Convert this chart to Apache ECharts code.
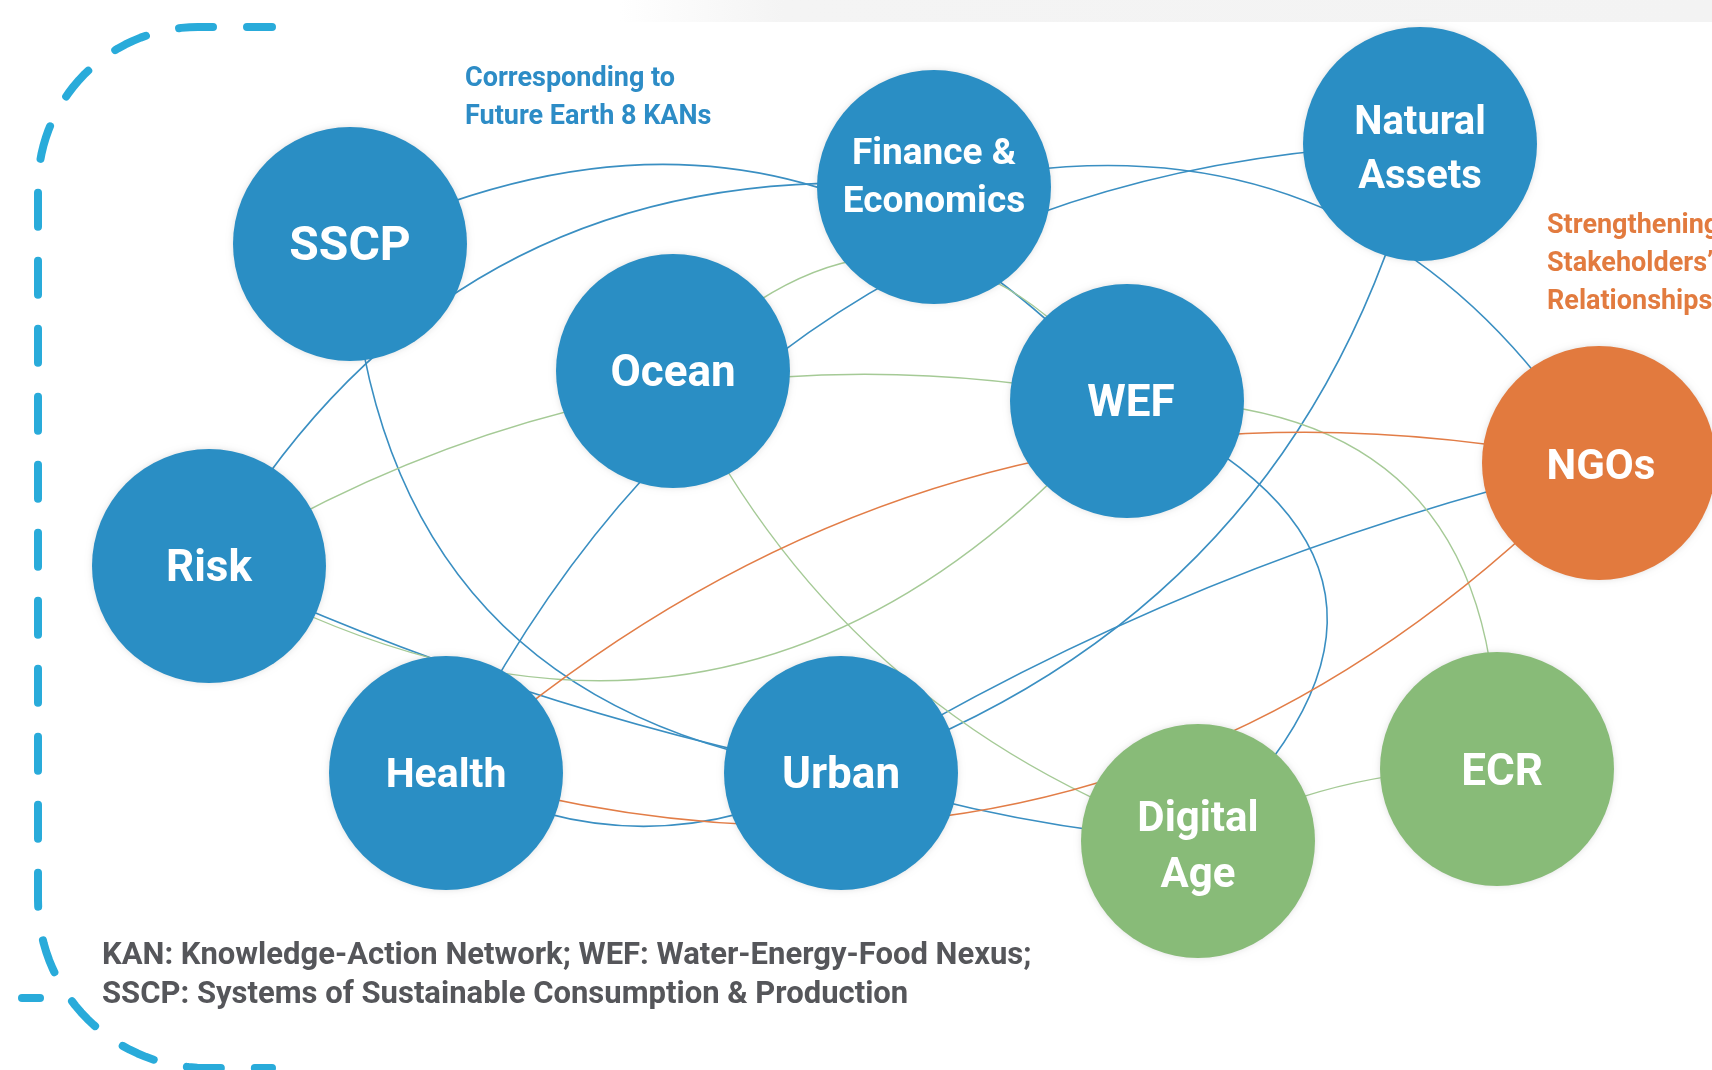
<!DOCTYPE html>
<html>
<head>
<meta charset="utf-8">
<script src="https://cdn.jsdelivr.net/npm/echarts@6/dist/echarts.min.js"></script>
<style>
html,body{margin:0;padding:0;background:#ffffff;}
#chart{width:1712px;height:1070px;}
</style>
</head>
<body>
<div id="chart"></div>
<script>
// ---------------- data ----------------
const nodeNames  = ['SSCP', 'Finance & Economics', 'Natural Assets', 'Ocean', 'WEF', 'NGOs', 'Risk', 'Health', 'Urban', 'Digital Age', 'ECR'];
const nodeLabels = ['SSCP', 'Finance &\nEconomics', 'Natural\nAssets', 'Ocean', 'WEF', 'NGOs', 'Risk', 'Health', 'Urban', 'Digital\nAge', 'ECR'];
const nodeGroups = ['KAN', 'KAN', 'KAN', 'KAN', 'KAN', 'Stakeholders', 'KAN', 'KAN', 'KAN', 'Emerging', 'Emerging'];
const groupNames = ['KAN', 'Stakeholders', 'Emerging'];

const linkSource = ['Risk', 'Finance & Economics', 'Urban', 'Risk', 'SSCP', 'Urban', 'WEF', 'SSCP', 'Health', 'Health', 'Urban',
                    'Ocean', 'WEF', 'ECR', 'Digital Age', 'Risk', 'Risk',
                    'Health', 'Health'];
const linkTarget = ['Finance & Economics', 'NGOs', 'NGOs', 'Urban', 'Urban', 'Digital Age', 'Digital Age', 'WEF', 'Natural Assets', 'Urban', 'Natural Assets',
                    'WEF', 'ECR', 'Digital Age', 'Ocean', 'WEF', 'WEF',
                    'NGOs', 'NGOs'];
const linkGroup  = ['KAN', 'KAN', 'KAN', 'KAN', 'KAN', 'KAN', 'KAN', 'KAN', 'KAN', 'KAN', 'KAN',
                    'Emerging', 'Emerging', 'Emerging', 'Emerging', 'Emerging', 'Emerging',
                    'Stakeholders', 'Stakeholders'];

const kanNote     = ['Corresponding to', 'Future Earth 8 KANs'];
const stakeNote   = ['Strengthening', 'Stakeholders\u2019', 'Relationships'];
const footerLines = ['KAN: Knowledge-Action Network; WEF: Water-Energy-Food Nexus;',
                     'SSCP: Systems of Sustainable Consumption & Production'];

// ---------------- layout & style (not data) ----------------
const NODE_POS = {
  'SSCP': [350, 244], 'Finance & Economics': [934, 187], 'Natural Assets': [1420, 144],
  'Ocean': [673, 371], 'WEF': [1127, 401], 'NGOs': [1599, 463], 'Risk': [209, 566],
  'Health': [446, 773], 'Urban': [841, 773], 'Digital Age': [1198, 841], 'ECR': [1497, 769]
};
const LINK_CURVE = [0.32, 0.36, 0.08, -0.06, -0.41, -0.06, 0.74, 0.38, 0.30, -0.27, -0.27,
                    0.57, 0.52, -0.13, 0.21, 0.197, -0.41,
                    0.25, -0.30];
const NODE_COLOR = { 'KAN': '#2a8ec4', 'Stakeholders': '#e27a3e', 'Emerging': '#88bb78' };
const LINK_COLOR = { 'KAN': '#3a8fc2', 'Stakeholders': '#e27d47', 'Emerging': '#a5ca96' };
const LINK_WIDTH = { 'KAN': 1.6, 'Stakeholders': 1.6, 'Emerging': 1.4 };
const LABEL_STYLE = {
  'SSCP': { fontSize: 48, offset: [0, 4] },
  'Finance & Economics': { fontSize: 37, lineHeight: 48, offset: [0, -8] },
  'Natural Assets': { fontSize: 40, lineHeight: 54, offset: [0, 7] },
  'Ocean': { offset: [0, 4] },
  'WEF': { offset: [4, 4] },
  'NGOs': { fontSize: 42, offset: [2, 5] },
  'Risk': { offset: [0, 4] },
  'Health': { fontSize: 41, offset: [0, 4] },
  'Urban': { offset: [0, 4] },
  'Digital Age': { fontSize: 42, lineHeight: 56, offset: [0, 7] },
  'ECR': { offset: [5, 5] }
};
const FONT = 'Roboto, "Noto Sans", sans-serif';

const nodes = nodeNames.map((n, i) => ({
  name: n,
  value: NODE_POS[n],
  category: groupNames.indexOf(nodeGroups[i]),
  label: Object.assign({ formatter: nodeLabels[i] }, LABEL_STYLE[n] || {})
}));
const links = linkSource.map((s, i) => ({
  source: s,
  target: linkTarget[i],
  lineStyle: { color: LINK_COLOR[linkGroup[i]], width: LINK_WIDTH[linkGroup[i]], curveness: LINK_CURVE[i], opacity: 1 }
}));

// decorative dashed bracket on the left (rounded corners)
function bracketPoints() {
  const pts = [[272, 27], [198, 27]];
  const r1 = 160, c1 = [198, 187];
  for (let k = 1; k <= 30; k++) {
    const a = -Math.PI / 2 - (Math.PI / 2) * k / 30;
    pts.push([c1[0] + r1 * Math.cos(a), c1[1] + r1 * Math.sin(a)]);
  }
  pts.push([38, 900]);
  const r2 = 168, c2 = [206, 900];
  for (let k = 1; k <= 30; k++) {
    const a = Math.PI - (Math.PI / 2) * k / 30;
    pts.push([c2[0] + r2 * Math.cos(a), c2[1] + r2 * Math.sin(a)]);
  }
  pts.push([272, 1068]);
  return pts;
}

const chart = echarts.init(document.getElementById('chart'), null, { renderer: 'canvas' });

const option = {
  backgroundColor: '#ffffff',
  animation: false,
  grid: { left: 0, right: 0, top: 0, bottom: 0 },
  xAxis: { type: 'value', min: 0, max: 1712, show: false },
  yAxis: { type: 'value', min: 0, max: 1070, inverse: true, show: false },
  graphic: [
    { type: 'rect', z: 0, silent: true,
      shape: { x: 620, y: 0, width: 1092, height: 22 },
      style: { fill: new echarts.graphic.LinearGradient(0, 0, 1, 0, [
        { offset: 0, color: 'rgba(243,243,243,0)' },
        { offset: 0.15, color: '#f4f4f4' },
        { offset: 1, color: '#f3f3f3' }]) } },
    { type: 'polyline', z: 1, silent: true,
      shape: { points: bracketPoints() },
      style: { fill: null, stroke: '#29abda', lineWidth: 8, lineCap: 'round', lineJoin: 'round', lineDash: [34, 34], lineDashOffset: 9 } },
    { type: 'line', z: 1, silent: true,
      shape: { x1: 22, y1: 998, x2: 40, y2: 998 },
      style: { stroke: '#29abda', lineWidth: 8, lineCap: 'round' } },
    { type: 'text', z: 5, silent: true,
      style: { text: kanNote.join('\n'), x: 465, y: 60, fill: '#2d8cc6',
               font: 'bold 27px ' + FONT, lineHeight: 38, align: 'left', verticalAlign: 'top' } },
    { type: 'text', z: 5, silent: true,
      style: { text: stakeNote.join('\n'), x: 1547, y: 207, fill: '#e27b3f',
               font: 'bold 27px ' + FONT, lineHeight: 38, align: 'left', verticalAlign: 'top' } },
    { type: 'text', z: 5, silent: true,
      style: { text: footerLines.join('\n'), x: 102, y: 937, fill: '#55565a',
               font: 'bold 31px ' + FONT, lineHeight: 39, align: 'left', verticalAlign: 'top' } }
  ],
  series: [{
    type: 'graph',
    coordinateSystem: 'cartesian2d',
    layout: 'none',
    roam: false,
    symbol: 'circle',
    symbolSize: 234,
    categories: groupNames.map(g => ({ name: g, itemStyle: { color: NODE_COLOR[g] } })),
    itemStyle: { shadowBlur: 6, shadowColor: 'rgba(0,0,0,0.12)' },
    label: { show: true, position: 'inside', color: '#ffffff', fontFamily: FONT, fontWeight: 'bold', fontSize: 44 },
    edgeSymbol: ['none', 'none'],
    lineStyle: { width: 1.6, opacity: 1 },
    emphasis: { disabled: true },
    data: nodes,
    links: links
  }]
};
chart.setOption(option);
</script>
</body>
</html>
